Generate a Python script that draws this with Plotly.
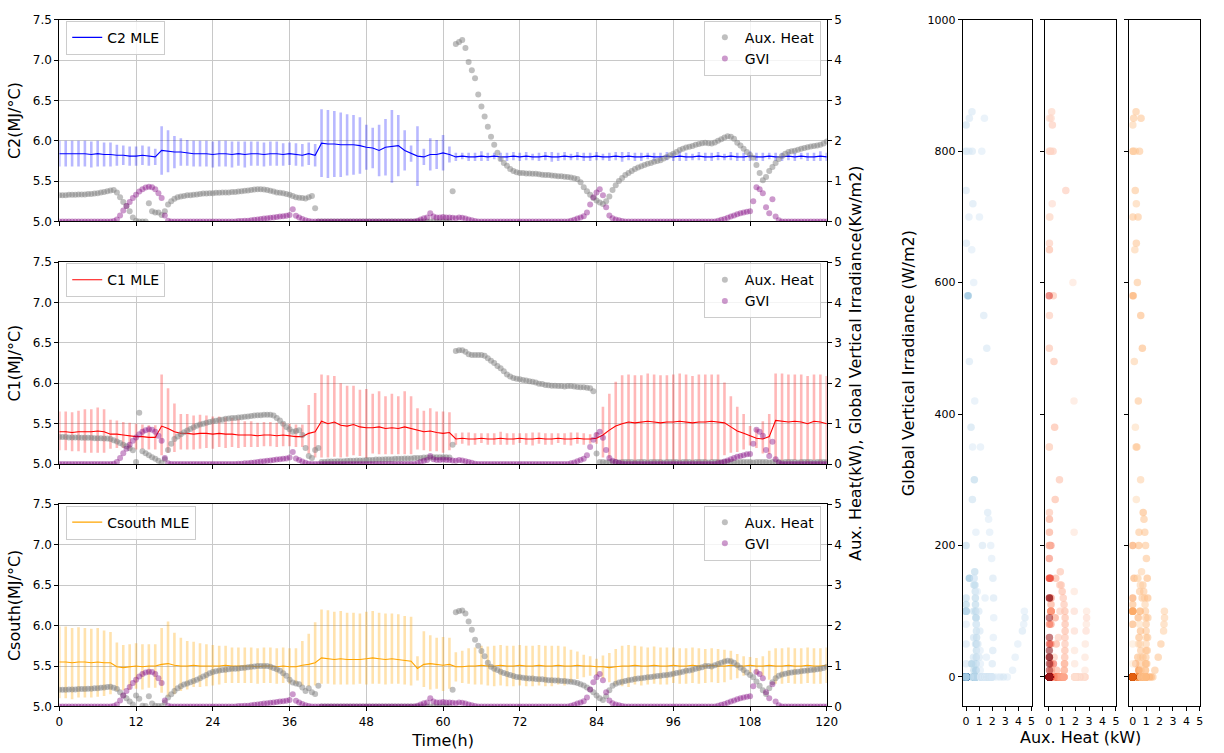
import numpy as np
import plotly.graph_objects as go

# ---------------- data ----------------
hours = np.arange(0, 121, 1)          # MLE sampling grid (h)
half_hours = np.arange(0, 120.5, 0.5)  # measurement sampling grid (h)

# Global vertical irradiance (kW/m2), shared by all zones
gvi = [
    0, 0, 0, 0, 0, 0, 0, 0, 0, 0, 0, 0, 0, 0, 0, 0, 0, 0.01, 0.05, 0.15, 0.27, 0.38, 0.48, 0.58,
    0.66, 0.74, 0.8, 0.84, 0.86, 0.85, 0.8, 0.7, 0.58, 0.15, 0.02, 0, 0, 0, 0, 0, 0, 0, 0, 0, 0, 0, 0, 0,
    0, 0, 0, 0, 0, 0, 0, 0, 0.01, 0.01, 0.02, 0.02, 0.03, 0.04, 0.05, 0.06, 0.07, 0.08, 0.09, 0.1, 0.11, 0.12, 0.13, 0.14,
    0.16, 0.3, 0.14, 0.1, 0.06, 0.03, 0.01, 0, 0, 0, 0, 0, 0, 0, 0, 0, 0, 0, 0, 0, 0, 0, 0, 0,
    0, 0, 0, 0, 0, 0, 0, 0, 0, 0, 0, 0, 0, 0, 0, 0, 0.02, 0.05, 0.08, 0.1, 0.2, 0.12, 0.1, 0.1,
    0.11, 0.1, 0.1, 0.09, 0.08, 0.1, 0.09, 0.07, 0.05, 0.03, 0.01, 0, 0, 0, 0, 0, 0, 0, 0, 0, 0, 0, 0, 0,
    0, 0, 0, 0, 0, 0, 0, 0, 0, 0, 0, 0, 0, 0, 0, 0, 0.02, 0.04, 0.07, 0.1, 0.13, 0.22, 0.42, 0.6,
    0.72, 0.8, 0.65, 0.35, 0.15, 0.08, 0.05, 0.03, 0.01, 0, 0, 0, 0, 0, 0, 0, 0, 0, 0, 0, 0, 0, 0, 0,
    0, 0, 0, 0, 0, 0, 0, 0, 0, 0, 0, 0, 0, 0, 0.02, 0.04, 0.06, 0.09, 0.12, 0.15, 0.18, 0.2, 0.22, 0.24,
    0.25, 0.5, 0.85, 0.8, 0.7, 0.35, 0.2, 0.55, 0.12, 0.03, 0, 0, 0, 0, 0, 0, 0, 0, 0, 0, 0, 0, 0, 0,
    0,
]

# Auxiliary heat (kW) per zone
aux_c2 = [
    0.65, 0.65, 0.65, 0.66, 0.66, 0.66, 0.67, 0.67, 0.67, 0.68, 0.68, 0.69, 0.70, 0.72, 0.73, 0.75, 0.77, 0.78, 0.72, 0.60, 0.48, 0.38, 0.25, 0.10,
    0.02, 0, 0, 0, 0.45, 0.25, 0.22, 0.22, 0.16, 0.25, 0.42, 0.50, 0.56, 0.60, 0.62, 0.63, 0.65, 0.65, 0.66, 0.67, 0.68, 0.69, 0.69, 0.70,
    0.70, 0.71, 0.71, 0.72, 0.72, 0.72, 0.73, 0.73, 0.74, 0.75, 0.76, 0.77, 0.78, 0.79, 0.80, 0.80, 0.79, 0.78, 0.76, 0.74, 0.72, 0.71, 0.70, 0.68,
    0.66, 0.63, 0.60, 0.59, 0.58, 0.57, 0.60, 0.63, 0.33, 0, 0, 0, 0, 0, 0, 0, 0, 0, 0, 0, 0, 0, 0, 0,
    0, 0, 0, 0, 0, 0, 0, 0, 0, 0, 0, 0, 0, 0, 0, 0, 0, 0, 0, 0, 0, 0, 0, 0,
    0, 0, 0, 0.75, 4.40, 4.45, 4.50, 4.30, 3.95, 3.75, 3.55, 3.15, 2.85, 2.60, 2.35, 2.10, 1.90, 1.70, 1.55, 1.45, 1.38, 1.30, 1.25, 1.22,
    1.20, 1.20, 1.19, 1.19, 1.18, 1.18, 1.17, 1.16, 1.15, 1.15, 1.14, 1.13, 1.12, 1.12, 1.11, 1.10, 1.09, 1.07, 1.05, 0.97, 0.85, 0.75, 0.66, 0.58,
    0.52, 0.47, 0.43, 0.50, 0.62, 0.78, 0.90, 1.00, 1.08, 1.15, 1.20, 1.25, 1.30, 1.34, 1.37, 1.40, 1.43, 1.45, 1.48, 1.50, 1.52, 1.56, 1.60, 1.64,
    1.68, 1.72, 1.77, 1.80, 1.83, 1.85, 1.87, 1.90, 1.92, 1.94, 1.95, 1.94, 1.93, 1.96, 2.00, 2.04, 2.08, 2.11, 2.10, 2.05, 1.95, 1.88, 1.80, 1.72,
    1.65, 1.58, 1.40, 1.20, 1.02, 1.10, 1.25, 1.35, 1.45, 1.55, 1.62, 1.68, 1.72, 1.74, 1.75, 1.78, 1.80, 1.82, 1.84, 1.86, 1.87, 1.88, 1.90, 1.93,
    1.98,
]
aux_c1 = [
    0.67, 0.67, 0.67, 0.66, 0.66, 0.66, 0.66, 0.65, 0.65, 0.65, 0.65, 0.64, 0.64, 0.64, 0.63, 0.63, 0.62, 0.59, 0.56, 0.52, 0.48, 0.44, 0.39, 0.34,
    0.05, 1.27, 0.32, 0.27, 0.22, 0.17, 0.13, 0.08, 0.03, 0.12, 0.35, 0.50, 0.62, 0.68, 0.74, 0.79, 0.83, 0.87, 0.91, 0.95, 0.98, 1.00, 1.02, 1.04,
    1.06, 1.07, 1.09, 1.10, 1.12, 1.13, 1.14, 1.14, 1.15, 1.16, 1.17, 1.18, 1.19, 1.20, 1.21, 1.21, 1.22, 1.22, 1.22, 1.20, 1.14, 1.08, 1.00, 0.92,
    0.86, 0.80, 0.82, 0.84, 0.72, 0.40, 0.20, 0.15, 0.35, 0.40, 0.05, 0.05, 0.06, 0.06, 0.06, 0.07, 0.07, 0.07, 0.08, 0.08, 0.08, 0.09, 0.09, 0.09,
    0.10, 0.10, 0.10, 0.11, 0.11, 0.11, 0.12, 0.12, 0.12, 0.13, 0.13, 0.13, 0.14, 0.14, 0.14, 0.15, 0.15, 0.15, 0.16, 0.16, 0.16, 0.17, 0.17, 0.17,
    0.17, 0.17, 0.16, 0.48, 2.80, 2.82, 2.82, 2.78, 2.72, 2.70, 2.70, 2.70, 2.70, 2.68, 2.62, 2.56, 2.50, 2.43, 2.37, 2.30, 2.22, 2.17, 2.13, 2.11,
    2.10, 2.08, 2.07, 2.05, 2.04, 2.02, 1.99, 1.98, 1.96, 1.95, 1.94, 1.94, 1.93, 1.93, 1.92, 1.93, 1.93, 1.92, 1.91, 1.90, 1.90, 1.89, 1.88, 1.80,
    0.26, 0.05, 0.05, 0.04, 0.05, 0.05, 0.05, 0.04, 0.05, 0.05, 0.05, 0.05, 0.04, 0.05, 0.05, 0.05, 0.04, 0.05, 0.05, 0.05, 0.05, 0.04, 0.05, 0.05,
    0.05, 0.05, 0.04, 0.05, 0.05, 0.05, 0.04, 0.05, 0.05, 0.05, 0.05, 0.04, 0.05, 0.05, 0.05, 0.04, 0.05, 0.05, 0.05, 0.05, 0.04, 0.05, 0.05, 0.05,
    0.05, 0.04, 0.05, 0.05, 0.05, 0.05, 0.04, 0.05, 0.05, 0.05, 0.04, 0.05, 0.05, 0.05, 0.05, 0.04, 0.05, 0.05, 0.05, 0.05, 0.04, 0.05, 0.05, 0.05,
    0.05,
]
aux_cs = [
    0.41, 0.41, 0.41, 0.42, 0.42, 0.42, 0.43, 0.43, 0.43, 0.44, 0.44, 0.45, 0.45, 0.46, 0.47, 0.48, 0.49, 0.46, 0.43, 0.35, 0.27, 0.20, 0.12, 0.05,
    0.27, 0.19, 0.02, 0.01, 0.25, 0.07, 0.02, 0.01, 0.01, 0.10, 0.22, 0.30, 0.38, 0.45, 0.50, 0.54, 0.57, 0.60, 0.63, 0.66, 0.70, 0.74, 0.78, 0.82,
    0.85, 0.87, 0.89, 0.90, 0.91, 0.92, 0.93, 0.93, 0.94, 0.95, 0.96, 0.97, 0.98, 0.99, 1.00, 1.00, 1.00, 1.00, 0.98, 0.95, 0.92, 0.88, 0.82, 0.76,
    0.66, 0.59, 0.57, 0.55, 0.47, 0.38, 0.45, 0.35, 0.31, 0.51, 0, 0, 0, 0, 0, 0, 0, 0, 0, 0, 0, 0, 0, 0,
    0, 0, 0, 0, 0, 0, 0, 0, 0, 0, 0, 0, 0, 0, 0, 0, 0, 0, 0, 0, 0, 0, 0, 0,
    0, 0, 0, 0.41, 2.33, 2.36, 2.37, 2.30, 2.10, 1.90, 1.65, 1.50, 1.37, 1.24, 1.08, 0.98, 0.93, 0.90, 0.86, 0.83, 0.80, 0.78, 0.75, 0.73,
    0.72, 0.71, 0.70, 0.69, 0.69, 0.68, 0.67, 0.67, 0.66, 0.65, 0.65, 0.64, 0.64, 0.63, 0.63, 0.62, 0.61, 0.60, 0.58, 0.55, 0.52, 0.47, 0.42, 0.35,
    0.27, 0.20, 0.16, 0.25, 0.40, 0.51, 0.56, 0.59, 0.61, 0.63, 0.65, 0.66, 0.68, 0.69, 0.70, 0.71, 0.72, 0.73, 0.74, 0.75, 0.76, 0.77, 0.78, 0.79,
    0.81, 0.83, 0.84, 0.86, 0.88, 0.89, 0.91, 0.93, 0.95, 0.97, 1.00, 1.00, 0.99, 1.02, 1.05, 1.08, 1.11, 1.13, 1.12, 1.08, 1.02, 0.96, 0.90, 0.84,
    0.78, 0.72, 0.62, 0.51, 0.40, 0.31, 0.45, 0.60, 0.70, 0.76, 0.79, 0.81, 0.83, 0.84, 0.85, 0.86, 0.87, 0.88, 0.89, 0.90, 0.91, 0.92, 0.93, 0.95,
    0.98,
]

# Capacitance MLE (MJ/degC) and error bar extents (above / below), hourly
c2_mle = [
    5.84, 5.84, 5.84, 5.84, 5.84, 5.83, 5.84, 5.83, 5.83,
    5.82, 5.82, 5.81, 5.81, 5.82, 5.81, 5.80,
    5.88, 5.87, 5.86, 5.86, 5.85,
    5.84, 5.84, 5.84, 5.83, 5.84, 5.84, 5.83, 5.84, 5.83, 5.84, 5.84, 5.83, 5.84, 5.84, 5.83, 5.84, 5.83, 5.82, 5.84, 5.82,
    5.97, 5.96, 5.96, 5.95, 5.95, 5.95, 5.94,
    5.92, 5.91, 5.88, 5.92, 5.93, 5.94, 5.88, 5.84,
    5.81, 5.80, 5.83, 5.83, 5.85, 5.83,
    5.80, 5.81, 5.80, 5.80, 5.81, 5.80, 5.81, 5.80, 5.80, 5.81,
    5.80, 5.81, 5.80, 5.80, 5.81, 5.80, 5.80, 5.81, 5.80, 5.81,
    5.80, 5.80, 5.81, 5.80, 5.80, 5.81, 5.80, 5.81, 5.80, 5.80,
    5.81, 5.80, 5.80, 5.81, 5.80, 5.81, 5.80, 5.80, 5.81, 5.80,
    5.80, 5.81, 5.80, 5.81, 5.80, 5.80, 5.81, 5.80, 5.80, 5.81,
    5.80, 5.80, 5.81, 5.80, 5.81, 5.80, 5.80, 5.81, 5.80,
]
c2_err = [
    0.16, 0.16, 0.16, 0.16, 0.16, 0.16, 0.16, 0.15, 0.15,
    0.13, 0.12, 0.12, 0.12, 0.12, 0.12, 0.10,
    0.30, 0.26, 0.20, 0.17, 0.16,
    0.16, 0.16, 0.16, 0.16, 0.16, 0.16, 0.16, 0.15, 0.16, 0.15, 0.15, 0.15, 0.15, 0.15, 0.14, 0.14, 0.14, 0.14, 0.14, 0.14,
    0.42, 0.42, 0.41, 0.40, 0.38, 0.37, 0.35,
    0.28, 0.25, 0.32, 0.35, 0.45, 0.38, 0.25, 0.10,
    0.37, 0.10, 0.20, 0.18, 0.22, 0.10,
    0.05, 0.04, 0.05, 0.05, 0.06, 0.05, 0.04, 0.05, 0.05, 0.05,
    0.05, 0.05, 0.04, 0.05, 0.05, 0.06, 0.05, 0.05, 0.04, 0.05,
    0.05, 0.05, 0.05, 0.04, 0.05, 0.05, 0.06, 0.05, 0.05, 0.05,
    0.04, 0.05, 0.05, 0.05, 0.05, 0.06, 0.05, 0.04, 0.05, 0.05,
    0.05, 0.05, 0.04, 0.05, 0.05, 0.05, 0.06, 0.05, 0.05, 0.04,
    0.05, 0.05, 0.05, 0.05, 0.04, 0.05, 0.05, 0.06, 0.05,
]
c1_mle = [
    5.40, 5.40, 5.39, 5.40, 5.40, 5.40, 5.41, 5.40,
    5.37, 5.37, 5.36, 5.35, 5.34, 5.34, 5.33, 5.33,
    5.47, 5.44, 5.40,
    5.38, 5.38, 5.37, 5.38, 5.38, 5.37, 5.38, 5.37, 5.37, 5.36,
    5.36, 5.36, 5.35, 5.36, 5.36, 5.35, 5.36, 5.35, 5.34, 5.34,
    5.38, 5.40,
    5.53, 5.50, 5.52, 5.48, 5.47, 5.49, 5.46, 5.45,
    5.45, 5.46, 5.44, 5.45, 5.44, 5.46, 5.44,
    5.42, 5.40, 5.41, 5.39, 5.38, 5.39,
    5.31, 5.32, 5.31, 5.31, 5.32, 5.31, 5.31, 5.32, 5.31, 5.31, 5.32, 5.31, 5.31, 5.32, 5.31, 5.31, 5.32, 5.31, 5.31, 5.32, 5.31, 5.31, 5.32,
    5.36, 5.42, 5.47, 5.50,
    5.52, 5.51, 5.52, 5.53, 5.52, 5.51, 5.52, 5.52, 5.53, 5.52, 5.51, 5.52, 5.52, 5.53, 5.52, 5.51,
    5.46, 5.41, 5.38,
    5.35, 5.32, 5.31, 5.34,
    5.54, 5.53, 5.52, 5.53, 5.52, 5.50, 5.53, 5.52, 5.50,
]
c1_err_hi = [
    0.25, 0.25, 0.25, 0.26, 0.28, 0.28, 0.29, 0.28,
    0.18, 0.17, 0.16, 0.16, 0.16, 0.15, 0.15, 0.15,
    0.64, 0.50, 0.35,
    0.24, 0.24, 0.23, 0.23, 0.22, 0.22, 0.21, 0.21, 0.20, 0.20,
    0.17, 0.17, 0.16, 0.16, 0.16, 0.16, 0.16, 0.15, 0.15, 0.15,
    0.35, 0.48,
    0.58, 0.60, 0.57, 0.52, 0.50, 0.48, 0.46, 0.48,
    0.42, 0.44, 0.40, 0.42, 0.40, 0.44, 0.40,
    0.27, 0.26, 0.28, 0.26, 0.27, 0.25,
    0.07, 0.07, 0.08, 0.07, 0.06, 0.07, 0.07, 0.08, 0.07, 0.07, 0.06, 0.07, 0.08, 0.07, 0.07, 0.07, 0.06, 0.07, 0.08, 0.07, 0.07, 0.06, 0.07,
    0.35, 0.45, 0.55, 0.60,
    0.59, 0.59, 0.58, 0.59, 0.59, 0.59, 0.58, 0.59, 0.59, 0.59, 0.58, 0.59, 0.59, 0.58, 0.59, 0.50,
    0.38, 0.30, 0.24,
    0.12, 0.12, 0.22, 0.28,
    0.58, 0.59, 0.59, 0.58, 0.59, 0.59, 0.58, 0.59, 0.59,
]
c1_err_lo = [
    0.23, 0.23, 0.23, 0.24, 0.26, 0.26, 0.27, 0.26,
    0.18, 0.17, 0.16, 0.16, 0.16, 0.15, 0.15, 0.15,
    0.36, 0.30, 0.25,
    0.20, 0.20, 0.19, 0.19, 0.18, 0.18, 0.17, 0.17, 0.16, 0.16,
    0.15, 0.15, 0.14, 0.14, 0.14, 0.14, 0.14, 0.13, 0.13, 0.13,
    0.25, 0.32,
    0.45, 0.42, 0.43, 0.40, 0.38, 0.38, 0.36, 0.38,
    0.32, 0.34, 0.32, 0.33, 0.32, 0.34, 0.32,
    0.24, 0.23, 0.25, 0.23, 0.24, 0.22,
    0.07, 0.07, 0.08, 0.07, 0.06, 0.07, 0.07, 0.08, 0.07, 0.07, 0.06, 0.07, 0.08, 0.07, 0.07, 0.07, 0.06, 0.07, 0.08, 0.07, 0.07, 0.06, 0.07,
    0.28, 0.35, 0.42, 0.47,
    0.49, 0.49, 0.48, 0.49, 0.49, 0.49, 0.48, 0.49, 0.49, 0.49, 0.48, 0.49, 0.49, 0.48, 0.49, 0.40,
    0.32, 0.26, 0.20,
    0.12, 0.12, 0.18, 0.22,
    0.48, 0.49, 0.48, 0.48, 0.49, 0.48, 0.48, 0.49, 0.48,
]
cs_mle = [
    5.55, 5.55, 5.54, 5.55, 5.55, 5.54, 5.55, 5.54, 5.54,
    5.49, 5.48, 5.49, 5.50, 5.49, 5.50, 5.50,
    5.52, 5.53,
    5.51, 5.50, 5.50, 5.51, 5.50, 5.50, 5.50, 5.50, 5.51, 5.50, 5.50, 5.50, 5.50, 5.49, 5.50, 5.50, 5.49, 5.50, 5.49, 5.49,
    5.51, 5.52, 5.54,
    5.60, 5.59, 5.58, 5.59, 5.58, 5.58, 5.58, 5.59, 5.60, 5.59, 5.58, 5.59, 5.58, 5.57, 5.56,
    5.47, 5.52, 5.53, 5.52, 5.51, 5.52,
    5.49, 5.49, 5.50, 5.50, 5.51, 5.50, 5.50, 5.51, 5.50, 5.50,
    5.51, 5.50, 5.50, 5.51, 5.50, 5.50, 5.51, 5.50, 5.50, 5.51,
    5.50, 5.50, 5.49, 5.49, 5.48, 5.49, 5.50, 5.50, 5.51, 5.50,
    5.50, 5.51, 5.50, 5.50, 5.51, 5.50, 5.50, 5.51, 5.50, 5.50,
    5.51, 5.50, 5.50, 5.51, 5.50, 5.50, 5.51, 5.50, 5.50, 5.51,
    5.50, 5.50, 5.51, 5.50, 5.50, 5.51, 5.50, 5.50, 5.51,
]
cs_err_hi = [
    0.44, 0.44, 0.43, 0.43, 0.42, 0.42, 0.42, 0.40, 0.38,
    0.30, 0.28, 0.28, 0.28, 0.28, 0.27, 0.27,
    0.45, 0.52,
    0.40, 0.35, 0.31, 0.29, 0.28, 0.27, 0.26, 0.25, 0.24, 0.23, 0.23, 0.23, 0.23, 0.23, 0.23, 0.23, 0.23, 0.23, 0.23, 0.23,
    0.30, 0.38, 0.50,
    0.60, 0.60, 0.59, 0.59, 0.58, 0.58, 0.57, 0.58, 0.58, 0.57, 0.57, 0.56, 0.56, 0.55, 0.55,
    0.15, 0.41, 0.35, 0.33, 0.35, 0.33,
    0.18, 0.20,
    0.22, 0.23, 0.24, 0.24, 0.25, 0.25, 0.25, 0.25, 0.25, 0.25, 0.25, 0.25, 0.25, 0.25, 0.24, 0.24,
    0.20, 0.17, 0.14, 0.12, 0.10,
    0.14, 0.18, 0.22, 0.25, 0.26,
    0.24, 0.24, 0.23, 0.23, 0.23, 0.23, 0.22, 0.22, 0.22, 0.22, 0.22, 0.21, 0.21, 0.21, 0.20,
    0.18, 0.15, 0.12, 0.10, 0.10,
    0.12, 0.18, 0.22, 0.22, 0.22, 0.22, 0.22, 0.22, 0.22, 0.22, 0.22,
]
cs_err_lo = [
    0.45, 0.45, 0.45, 0.44, 0.44, 0.43, 0.43, 0.41, 0.39,
    0.30, 0.28, 0.28, 0.28, 0.28, 0.27, 0.27,
    0.35, 0.41,
    0.36, 0.31, 0.29, 0.27, 0.26, 0.25, 0.24, 0.23, 0.22, 0.21, 0.21, 0.21, 0.21, 0.21, 0.21, 0.21, 0.21, 0.21, 0.21, 0.21,
    0.25, 0.27, 0.28,
    0.32, 0.31, 0.31, 0.32, 0.31, 0.31, 0.30, 0.32, 0.32, 0.31, 0.31, 0.31, 0.30, 0.30, 0.30,
    0.15, 0.28, 0.32, 0.30, 0.32, 0.30,
    0.18, 0.20,
    0.22, 0.23, 0.24, 0.24, 0.25, 0.25, 0.25, 0.25, 0.25, 0.25, 0.25, 0.25, 0.25, 0.25, 0.24, 0.24,
    0.20, 0.17, 0.14, 0.12, 0.10,
    0.14, 0.18, 0.22, 0.25, 0.26,
    0.24, 0.24, 0.23, 0.23, 0.23, 0.23, 0.22, 0.22, 0.22, 0.22, 0.22, 0.21, 0.21, 0.21, 0.20,
    0.18, 0.15, 0.12, 0.10, 0.10,
    0.12, 0.18, 0.22, 0.22, 0.22, 0.22, 0.22, 0.22, 0.22, 0.22, 0.22,
]

for arr in (gvi, aux_c2, aux_c1, aux_cs):
    assert len(arr) == len(half_hours), len(arr)
for arr in (c2_mle, c2_err, c1_mle, c1_err_hi, c1_err_lo, cs_mle, cs_err_hi, cs_err_lo):
    assert len(arr) == len(hours), len(arr)

# ---------------- figure ----------------
W, H = 1224, 753
FONT = "DejaVu Sans"


def fx(px):
    return px / W


def fy(py):
    return 1 - py / H


fig = go.Figure()

BLUES = [[0, "#dbe9f6"], [0.35, "#9ecae1"], [0.65, "#4292c6"], [1, "#08306b"]]
REDS = [[0, "#fee0d2"], [0.35, "#fc9272"], [0.65, "#ef3b2c"], [1, "#67000d"]]
ORANGES = [[0, "#fee6ce"], [0.35, "#fdae6b"], [0.65, "#f16913"], [1, "#a63603"]]

panels = [
    dict(label="C2 MLE", line="blue", err="rgba(0,0,255,0.28)", mle=c2_mle, ehi=c2_err, elo=c2_err, aux=aux_c2,
         title="C2(MJ/°C)", top=13, bot=218.5, leg_top=20, cs=BLUES),
    dict(label="C1 MLE", line="red", err="rgba(255,0,0,0.28)", mle=c1_mle, ehi=c1_err_hi, elo=c1_err_lo, aux=aux_c1,
         title="C1(MJ/°C)", top=260, bot=465.7, leg_top=267, cs=REDS),
    dict(label="Csouth MLE", line="orange", err="rgba(255,165,0,0.32)", mle=cs_mle, ehi=cs_err_hi, elo=cs_err_lo, aux=aux_cs,
         title="Csouth(MJ/°C)", top=506.7, bot=712.7, leg_top=514, cs=ORANGES),
]

LEFT_X0, LEFT_X1 = 56, 833
axis_common = dict(showline=True, linecolor="black", linewidth=1, ticks="outside",
                   ticklen=4, tickcolor="black", tickwidth=1, zeroline=False,
                   tickfont=dict(family=FONT, size=12, color="black"))
GRID = "#c8c8c8"

gvi_wm2 = np.array(gvi) * 1000.0
hour_index = (half_hours // 1).astype(int)  # which hourly estimate each sample belongs to

sc_x = [(970.7, 1040.3), (1054.3, 1125.7), (1139.3, 1210.7)]

for k, p in enumerate(panels):
    xid = "x" if k == 0 else f"x{k + 1}"
    yl = "y" if k == 0 else f"y{2 * k + 1}"
    yr = f"y{2 * k + 2}"
    leg_l = "legend" if k == 0 else f"legend{2 * k + 1}"
    leg_r = f"legend{2 * k + 2}"

    fig.add_trace(go.Scatter(
        x=hours, y=p["mle"], mode="lines", name=p["label"],
        line=dict(color=p["line"], width=1.1),
        error_y=dict(type="data", symmetric=False, array=p["ehi"], arrayminus=p["elo"], visible=True,
                     color=p["err"], thickness=2.6, width=0),
        xaxis=xid, yaxis=yl, legend=leg_l, showlegend=True,
    ))
    fig.add_trace(go.Scatter(
        x=half_hours, y=p["aux"], mode="markers", name="Aux. Heat",
        marker=dict(color="rgba(128,128,128,0.5)", size=6, line=dict(width=0)),
        xaxis=xid, yaxis=yr, legend=leg_r,
    ))
    fig.add_trace(go.Scatter(
        x=half_hours, y=gvi, mode="markers", name="GVI",
        marker=dict(color="rgba(128,0,128,0.4)", size=6, line=dict(width=0)),
        xaxis=xid, yaxis=yr, legend=leg_r,
    ))

    dom_y = [fy(p["bot"]), fy(p["top"])]
    xkey = "xaxis" if k == 0 else f"xaxis{k + 1}"
    ylkey = "yaxis" if k == 0 else f"yaxis{2 * k + 1}"
    yrkey = f"yaxis{2 * k + 2}"

    xa = dict(axis_common, domain=[fx(LEFT_X0), fx(LEFT_X1)], range=[0, 120],
              tickvals=list(range(0, 121, 12)), anchor=yl, mirror=True,
              showgrid=True, gridcolor=GRID, gridwidth=1,
              showticklabels=(k == 2))
    if k == 2:
        xa["title"] = dict(text="Time(h)", font=dict(family=FONT, size=16, color="black"), standoff=6)
    fig.layout[xkey] = xa
    fig.layout[ylkey] = dict(axis_common, domain=dom_y, range=[5, 7.5], dtick=0.5, tick0=5,
                             tickformat=".1f", anchor=xid, mirror=True,
                             showgrid=True, gridcolor=GRID, gridwidth=1,
                             title=dict(text=p["title"], font=dict(family=FONT, size=16, color="black"),
                                        standoff=8))
    yra = dict(axis_common, range=[0, 5], dtick=1, tick0=0, anchor=xid, overlaying=yl,
               side="right", showgrid=False)
    if k == 1:
        yra["title"] = dict(text="Aux. Heat(kW), Global Vertical Irradiance(Kw/m2)",
                            font=dict(family=FONT, size=16, color="black"), standoff=8)
    fig.layout[yrkey] = yra

    legbox = dict(bgcolor="rgba(255,255,255,0.8)", bordercolor="#cccccc", borderwidth=1,
                  font=dict(family=FONT, size=14, color="black"), yanchor="top")
    fig.layout[leg_l] = dict(legbox, x=fx(63), y=fy(p["leg_top"] - 6), xanchor="left")
    fig.layout[leg_r] = dict(legbox, x=fx(827), y=fy(p["leg_top"] - 6), xanchor="right")

    # right-hand scatter panel, coloured by the zone's capacitance estimate
    mle_arr = np.array(p["mle"])
    col = mle_arr[hour_index]
    sxid = f"x{k + 4}"
    syid = f"y{k + 7}"
    fig.add_trace(go.Scatter(
        x=p["aux"], y=gvi_wm2, mode="markers", showlegend=False,
        marker=dict(color=col, colorscale=p["cs"], cmin=mle_arr.min(), cmax=mle_arr.max(),
                    size=7.5, opacity=0.55, line=dict(width=0), showscale=False),
        xaxis=sxid, yaxis=syid,
    ))
    sxa = dict(axis_common, domain=[fx(sc_x[k][0]), fx(sc_x[k][1])], range=[-0.25, 5],
               tickvals=[0, 1, 2, 3, 4, 5], anchor=syid, mirror=True, showgrid=False,
               tickfont=dict(family=FONT, size=11, color="black"))
    if k == 1:
        sxa["title"] = dict(text="Aux. Heat (kW)", font=dict(family=FONT, size=16, color="black"), standoff=4)
    fig.layout[f"xaxis{k + 4}"] = sxa
    sya = dict(axis_common, domain=[fy(712.7), fy(13)], range=[-45, 1000],
               tickvals=[0, 200, 400, 600, 800, 1000], anchor=sxid, mirror=True, showgrid=False,
               showticklabels=(k == 0), tickfont=dict(family=FONT, size=11, color="black"))
    if k == 0:
        sya["title"] = dict(text="Global Vertical Irradiance (W/m2)",
                            font=dict(family=FONT, size=16, color="black"), standoff=8)
    fig.layout[f"yaxis{k + 7}"] = sya

fig.update_layout(
    width=W, height=H, margin=dict(l=0, r=0, t=0, b=0),
    paper_bgcolor="white", plot_bgcolor="white",
    font=dict(family=FONT, size=12, color="black"),
)

fig.write_html("out.html")
